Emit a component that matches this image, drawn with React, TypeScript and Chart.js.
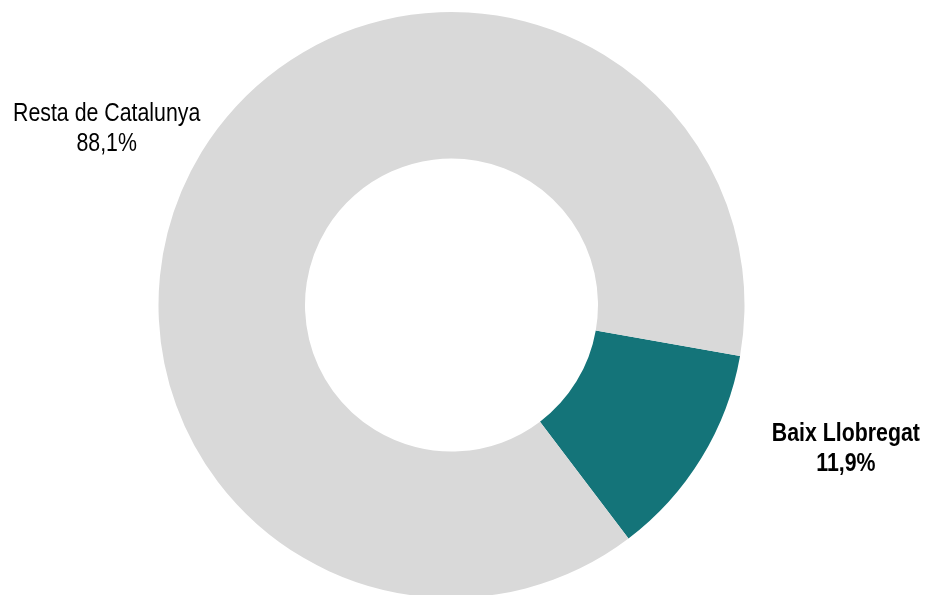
import React, { useEffect, useRef } from "react";
import { Chart, registerables } from "chart.js";

Chart.register(...registerables);

const categories = ["Baix Llobregat", "Resta de Catalunya"];
const shares = [11.9, 88.1];
const shareLabels = ["11,9%", "88,1%"];
const colors = ["#147479", "#d9d9d9"];
const boldLabel = [true, false];

const FONT = '"Liberation Sans", Arial, sans-serif';
const NARROW = 0.82; // emulate Arial Narrow by horizontal compression

// label anchor offsets, relative to the outer radius
const labelOffsets = [
  { dx: 1.346, dy: 0.464 },
  { dx: -1.177, dy: -0.628 },
];

const labelPlugin = {
  id: "sliceLabels",
  afterDraw(chart: any) {
    const meta = chart.getDatasetMeta(0);
    const ctx = chart.ctx;
    meta.data.forEach((arc: any, i: number) => {
      const r = arc.outerRadius;
      const x = arc.x + labelOffsets[i].dx * r;
      const y = arc.y + labelOffsets[i].dy * r;
      ctx.save();
      ctx.fillStyle = "#000000";
      ctx.textAlign = "center";
      ctx.textBaseline = "alphabetic";
      ctx.font = `${boldLabel[i] ? "bold " : ""}26px ${FONT}`;
      ctx.translate(x, y);
      ctx.scale(NARROW, 1);
      ctx.fillText(categories[i], 0, 0);
      ctx.fillText(shareLabels[i], 0, 30);
      ctx.restore();
    });
  },
};

export default function App() {
  const ref = useRef<HTMLCanvasElement | null>(null);
  useEffect(() => {
    if (!ref.current) return;
    const chart = new Chart(ref.current, {
      type: "doughnut",
      data: {
        labels: categories,
        datasets: [
          {
            data: shares,
            backgroundColor: colors,
            borderWidth: 0,
          },
        ],
      },
      options: {
        animation: false,
        responsive: false,
        rotation: 100,
        cutout: "50%",
        layout: { padding: { top: 12, bottom: 12, left: 0, right: 22 } },
        plugins: {
          legend: { display: false },
          tooltip: { enabled: false },
        },
      },
      plugins: [labelPlugin],
    });
    return () => chart.destroy();
  }, []);
  return (
    <div style={{ position: "fixed", left: 0, top: 0, width: 925, height: 595, overflow: "hidden", background: "#fff" }}>
      <canvas ref={ref} width={925} height={610} style={{ width: 925, height: 610, display: "block" }} />
    </div>
  );
}
